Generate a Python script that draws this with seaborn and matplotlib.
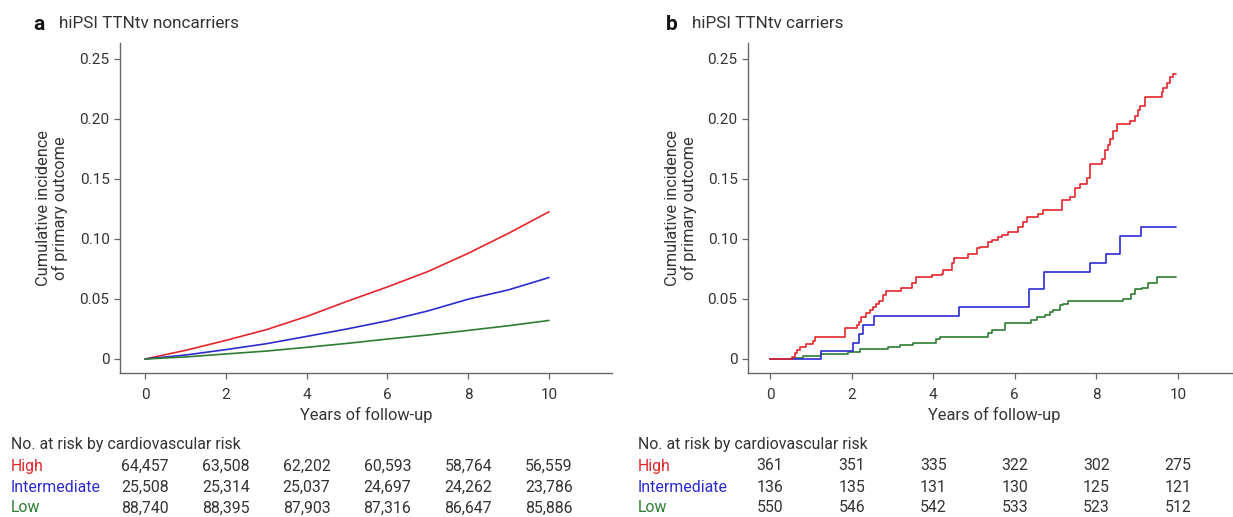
import matplotlib
matplotlib.use("Agg")
import matplotlib.pyplot as plt
import matplotlib.transforms as mtransforms
import numpy as np
import pandas as pd
import seaborn as sns

# panel a: smooth cumulative incidence, noncarriers (read at each year)
years_a = [0, 1, 2, 3, 4, 5, 6, 7, 8, 9, 10]
high_a = [0, 0.0072, 0.0155, 0.0244, 0.0354, 0.048, 0.060, 0.0728, 0.088, 0.1047, 0.1226]
inter_a = [0, 0.0033, 0.0078, 0.0127, 0.0188, 0.025, 0.0318, 0.040, 0.0498, 0.0576, 0.0678]
low_a = [0, 0.0017, 0.0042, 0.0066, 0.0097, 0.013, 0.0166, 0.020, 0.0238, 0.0277, 0.0321]

# panel b: step curves, carriers (event times and cumulative incidence after each step)
high_b_t = [0, 0.55, 0.61, 0.67, 0.74, 0.88, 1.06, 1.10, 1.84, 2.12, 2.18, 2.23, 2.35, 2.45,
            2.53, 2.61, 2.68, 2.76, 2.84, 3.20, 3.47, 3.58, 3.98, 4.21, 4.25, 4.45, 4.51,
            4.86, 5.07, 5.15, 5.35, 5.43, 5.60, 5.68, 5.84, 6.09, 6.21, 6.29, 6.58, 6.70,
            7.15, 7.35, 7.48, 7.60, 7.76, 7.84, 8.13, 8.21, 8.29, 8.33, 8.42, 8.50, 8.82,
            8.95, 9.03, 9.07, 9.19, 9.60, 9.64, 9.72, 9.80, 9.89, 9.95]
high_b_v = [0, 0.002, 0.0047, 0.0075, 0.010, 0.0125, 0.015, 0.0185, 0.026, 0.028, 0.031,
            0.0346, 0.038, 0.041, 0.043, 0.046, 0.048, 0.053, 0.057, 0.0587, 0.063, 0.068,
            0.070, 0.071, 0.0745, 0.080, 0.084, 0.0878, 0.092, 0.093, 0.0975, 0.099, 0.1016,
            0.1035, 0.1058, 0.110, 0.114, 0.118, 0.121, 0.124, 0.132, 0.135, 0.142, 0.146,
            0.151, 0.1625, 0.1667, 0.1736, 0.178, 0.183, 0.190, 0.196, 0.1985, 0.2027, 0.207,
            0.211, 0.218, 0.222, 0.226, 0.230, 0.2345, 0.237, 0.237]
inter_b_t = [0, 1.24, 2.04, 2.17, 2.27, 2.56, 4.64, 6.36, 6.71, 7.84, 8.23, 8.59, 9.09, 9.95]
inter_b_v = [0, 0.0065, 0.013, 0.021, 0.028, 0.0357, 0.0435, 0.058, 0.0728, 0.080, 0.0875,
             0.1024, 0.1096, 0.1096]
low_b_t = [0, 0.55, 0.80, 1.25, 1.92, 2.21, 2.90, 3.19, 3.50, 4.08, 4.17, 5.35, 5.43, 5.76,
           6.41, 6.54, 6.74, 6.86, 6.94, 7.11, 7.19, 7.31, 8.66, 8.86, 8.95, 9.11, 9.27,
           9.48, 9.95]
low_b_v = [0, 0.0012, 0.0028, 0.0045, 0.006, 0.008, 0.010, 0.0116, 0.0136, 0.0163, 0.018,
           0.0213, 0.024, 0.0296, 0.0324, 0.0352, 0.0365, 0.0393, 0.041, 0.0449, 0.046,
           0.0484, 0.050, 0.0545, 0.058, 0.0595, 0.063, 0.068, 0.068]

# numbers at risk
risk_years = [0, 2, 4, 6, 8, 10]
groups = ["High", "Intermediate", "Low"]
risk_a = {
    "High": ["64,457", "63,508", "62,202", "60,593", "58,764", "56,559"],
    "Intermediate": ["25,508", "25,314", "25,037", "24,697", "24,262", "23,786"],
    "Low": ["88,740", "88,395", "87,903", "87,316", "86,647", "85,886"],
}
risk_b = {
    "High": ["361", "351", "335", "322", "302", "275"],
    "Intermediate": ["136", "135", "131", "130", "125", "121"],
    "Low": ["550", "546", "542", "533", "523", "512"],
}

colors = {"High": "#e3262b", "Intermediate": "#2b2bd1", "Low": "#2e7d32"}

sns.set_style("ticks")
plt.rcParams["font.family"] = ["Roboto", "DejaVu Sans"]
AX_COL = "#666666"
TXT_COL = "#333333"

fig = plt.figure(figsize=(12.33, 5.17), dpi=100)
ax_a = fig.add_axes([120 / 1233, 1 - 373 / 517, 492 / 1233, 330 / 517])
ax_b = fig.add_axes([748 / 1233, 1 - 373 / 517, 485 / 1233, 330 / 517])

df_a = pd.concat([
    pd.DataFrame({"t": years_a, "v": high_a, "g": "High"}),
    pd.DataFrame({"t": years_a, "v": inter_a, "g": "Intermediate"}),
    pd.DataFrame({"t": years_a, "v": low_a, "g": "Low"}),
])
for g in groups:
    sub = df_a[df_a["g"] == g]
    sns.lineplot(data=sub, x="t", y="v", ax=ax_a, color=colors[g], lw=1.2, sort=False)

steps_b = {"High": (high_b_t, high_b_v), "Intermediate": (inter_b_t, inter_b_v),
           "Low": (low_b_t, low_b_v)}
for g in ["Low", "Intermediate", "High"]:
    t, v = steps_b[g]
    sub = pd.DataFrame({"t": t, "v": v})
    sns.lineplot(data=sub, x="t", y="v", ax=ax_b, color=colors[g], lw=1.2,
                 sort=False, drawstyle="steps-post")

xlims = {ax_a: (-0.62, 11.56), ax_b: (-0.54, 11.35)}
for ax in (ax_a, ax_b):
    ax.set_xlim(*xlims[ax])
    ax.set_ylim(-0.01166, 0.2631)
    ax.set_xticks([0, 2, 4, 6, 8, 10])
    ax.set_xticklabels(["0", "2", "4", "6", "8", "10"])
    ax.set_yticks([0, 0.05, 0.10, 0.15, 0.20, 0.25])
    ax.set_yticklabels(["0", "0.05", "0.10", "0.15", "0.20", "0.25"])
    ax.tick_params(axis="both", direction="out", length=4.5, width=0.9, color=AX_COL,
                   labelcolor=TXT_COL, labelsize=11, pad=3)
    ax.tick_params(axis="x", pad=6)
    for s in ("top", "right"):
        ax.spines[s].set_visible(False)
    for s in ("left", "bottom"):
        ax.spines[s].set_color(AX_COL)
        ax.spines[s].set_linewidth(1.0)
    ax.set_xlabel("Years of follow-up", fontsize=11.8, color=TXT_COL, va="center")
    ax.set_ylabel("Cumulative incidence\nof primary outcome", fontsize=11.8, color=TXT_COL,
                  va="center", linespacing=1.05)
    ax.yaxis.set_label_coords(-0.138, 0.5)

ax_a.xaxis.set_label_coords(0.5, -0.128)
ax_b.xaxis.set_label_coords(0.507, -0.128)

# panel titles
fig.text(33 / 1233, 1 - 24 / 517, "a", fontsize=15, fontweight="bold", va="center", color="#111111")
fig.text(59 / 1233, 1 - 24 / 517, "hiPSI TTNtv noncarriers", fontsize=12.3, va="center", color=TXT_COL)
fig.text(666 / 1233, 1 - 24 / 517, "b", fontsize=15, fontweight="bold", va="center", color="#111111")
fig.text(692 / 1233, 1 - 24 / 517, "hiPSI TTNtv carriers", fontsize=12.3, va="center", color=TXT_COL)

# numbers at risk tables
TAB_FS = 11.4
row_y = {"High": 1 - 466 / 517, "Intermediate": 1 - 487 / 517, "Low": 1 - 508 / 517}
for ax, risk, x_lab in ((ax_a, risk_a, 11 / 1233), (ax_b, risk_b, 638 / 1233)):
    trans = mtransforms.blended_transform_factory(ax.transData, fig.transFigure)
    fig.text(x_lab, 1 - 445 / 517, "No. at risk by cardiovascular risk", fontsize=TAB_FS,
             va="center", color=TXT_COL)
    for g in groups:
        fig.text(x_lab, row_y[g], g, fontsize=TAB_FS, va="center", color=colors[g])
        for yr, val in zip(risk_years, risk[g]):
            ax.text(yr, row_y[g], val, transform=trans, fontsize=TAB_FS, ha="center",
                    va="center", color=TXT_COL, clip_on=False)

fig.savefig("out.png", dpi=100)
plt.close(fig)
